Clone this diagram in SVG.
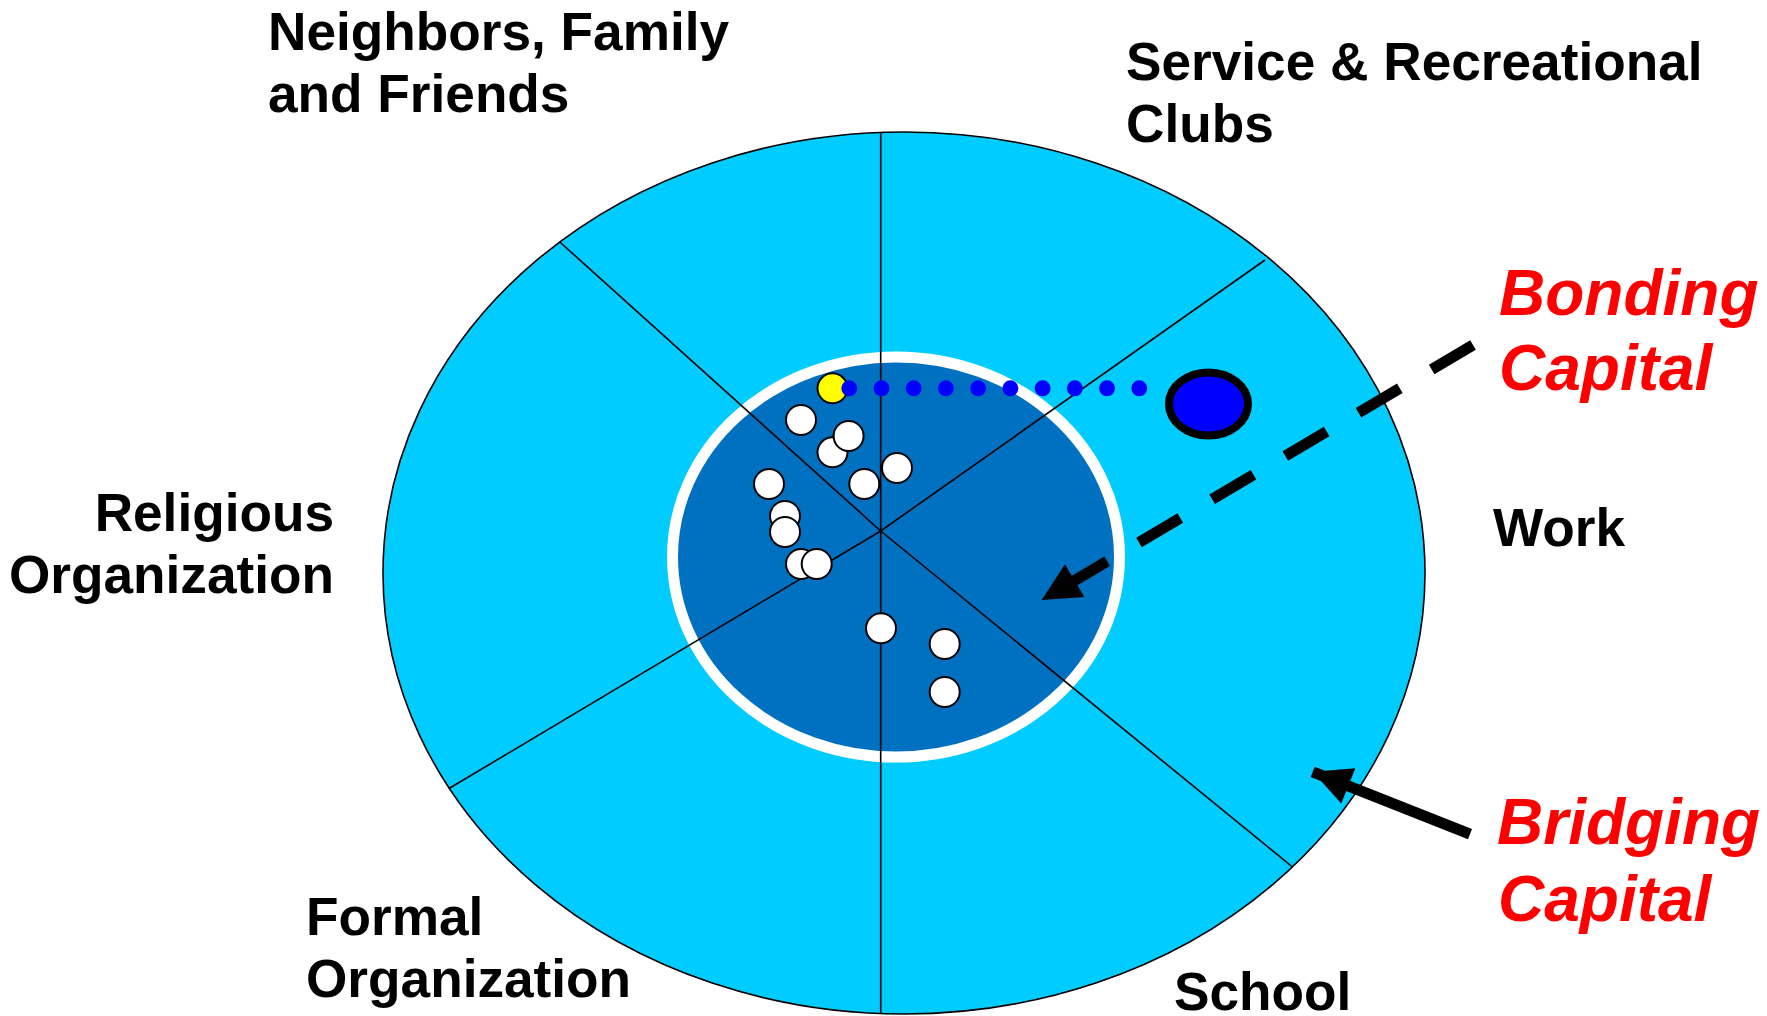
<svg xmlns="http://www.w3.org/2000/svg" width="1767" height="1016" viewBox="0 0 1767 1016">
  <style>
    .label { font-family: "Liberation Sans", Arial, sans-serif; font-weight: bold; font-size: 53.2px; fill: #000; }
    .capital { font-family: "Liberation Sans", Arial, sans-serif; font-weight: bold; font-style: italic; font-size: 64px; fill: #FF0000; }
    .divider { stroke: #000; stroke-width: 1.6; fill: none; }
    .member { fill: #FFFFFF; stroke: #000; stroke-width: 2; }
    .pointer { stroke: #000; stroke-width: 11; fill: none; }
  </style>
  <defs>
    <marker id="head" markerUnits="userSpaceOnUse" markerWidth="40" markerHeight="40" viewBox="-36 -18 37 36" refX="0" refY="0" orient="auto">
      <path d="M0,0 L-35.4,-17.6 L-35.4,17.6 Z" fill="#000"/>
    </marker>
  </defs>
  <rect width="1767" height="1016" fill="#FFFFFF"/>

  <!-- outer ring: bridging zone -->
  <g id="outer-ring">
    <ellipse cx="904" cy="573" rx="521" ry="441" fill="#00CCFF" stroke="#000" stroke-width="1.6"/>
  </g>

  <!-- inner core: bonding zone -->
  <g id="inner-core">
    <ellipse cx="896" cy="557" rx="223.5" ry="200" fill="#0070C0" stroke="#FFFFFF" stroke-width="11"/>
  </g>

  <!-- sector dividers radiating from the hub -->
  <g id="dividers">
    <line class="divider" x1="880.7" y1="531" x2="880.7" y2="132.4"/>
    <line class="divider" x1="880.7" y1="531" x2="880.7" y2="1013.6"/>
    <line class="divider" x1="880.7" y1="531" x2="559.8" y2="242"/>
    <line class="divider" x1="880.7" y1="531" x2="1292.5" y2="867"/>
    <line class="divider" x1="880.7" y1="531" x2="1265" y2="260"/>
    <line class="divider" x1="880.7" y1="531" x2="449.4" y2="788.3"/>
  </g>

  <!-- close ties inside the core -->
  <g id="members">
    <circle class="member" cx="801" cy="420" r="15"/>
    <circle class="member" cx="832.5" cy="452.3" r="15"/>
    <circle class="member" cx="848.6" cy="436" r="15"/>
    <circle class="member" cx="897" cy="468" r="15"/>
    <circle class="member" cx="769" cy="484" r="15"/>
    <circle class="member" cx="864.3" cy="484" r="15"/>
    <circle class="member" cx="785" cy="516" r="15"/>
    <circle class="member" cx="785" cy="532" r="15"/>
    <circle class="member" cx="801" cy="564" r="15"/>
    <circle class="member" cx="816.7" cy="564" r="15"/>
    <circle class="member" cx="881" cy="628.3" r="15"/>
    <circle class="member" cx="944.7" cy="644" r="15"/>
    <circle class="member" cx="944.7" cy="692" r="15"/>
  </g>

  <!-- the individual -->
  <g id="self">
    <circle cx="832.5" cy="388.3" r="15" fill="#FFFF00" stroke="#000" stroke-width="2"/>
  </g>

  <!-- dotted tie to the outside contact -->
  <g id="tie">
    <line x1="849.3" y1="388.3" x2="1139.3" y2="388.3" stroke="#0000FF" stroke-width="16" stroke-linecap="round" stroke-dasharray="0 32.22"/>
  </g>

  <!-- outside contact -->
  <g id="contact">
    <ellipse cx="1208.5" cy="404" rx="39.5" ry="31.5" fill="#0000FF" stroke="#000" stroke-width="8"/>
  </g>

  <!-- pointers from the captions -->
  <g id="connectors">
    <line class="pointer" x1="1473" y1="345" x2="1041.7" y2="600" stroke-dasharray="48 37" marker-end="url(#head)"/>
    <line class="pointer" x1="1470" y1="834.2" x2="1312.7" y2="771.8" marker-end="url(#head)"/>
  </g>

  <!-- sector labels -->
  <g id="label-neighbors">
    <text class="label" x="268" y="50">Neighbors, Family</text>
    <text class="label" x="268" y="112">and Friends</text>
  </g>
  <g id="label-clubs">
    <text class="label" x="1126" y="80">Service &amp; Recreational</text>
    <text class="label" x="1126" y="142">Clubs</text>
  </g>
  <g id="label-religious">
    <text class="label" x="334" y="531" text-anchor="end">Religious</text>
    <text class="label" x="334" y="593" text-anchor="end">Organization</text>
  </g>
  <g id="label-work">
    <text class="label" x="1493" y="546">Work</text>
  </g>
  <g id="label-formal">
    <text class="label" x="306" y="935">Formal</text>
    <text class="label" x="306" y="997">Organization</text>
  </g>
  <g id="label-school">
    <text class="label" x="1174" y="1010">School</text>
  </g>

  <!-- capital captions -->
  <g id="label-bonding">
    <text class="capital" x="1499" y="315">Bonding</text>
    <text class="capital" x="1499" y="390">Capital</text>
  </g>
  <g id="label-bridging">
    <text class="capital" x="1497" y="844">Bridging</text>
    <text class="capital" x="1498" y="921">Capital</text>
  </g>
</svg>
